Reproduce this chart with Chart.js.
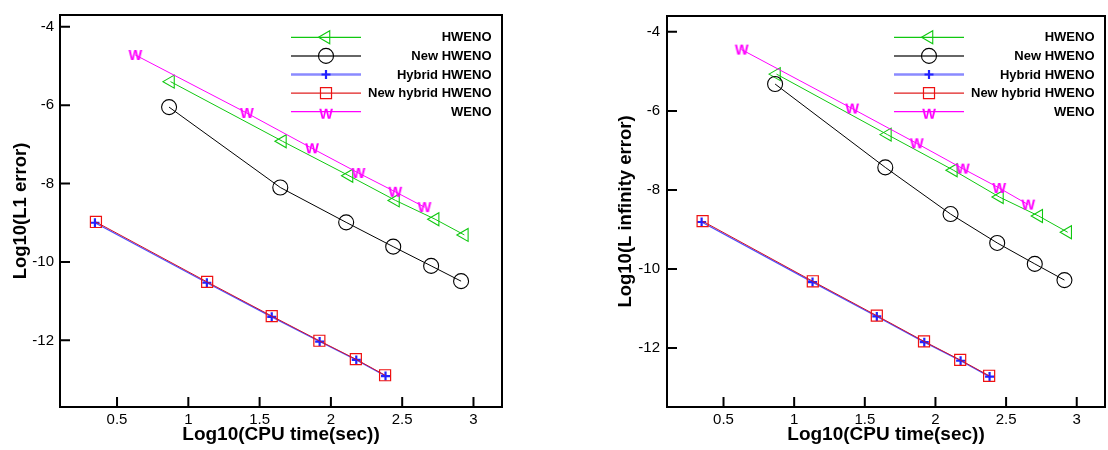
<!DOCTYPE html>
<html>
<head>
<meta charset="utf-8">
<script src="https://cdn.jsdelivr.net/npm/chart.js@4.4.1/dist/chart.umd.min.js"></script>
<style>
  html, body { margin: 0; padding: 0; background: #fff; }
  body { width: 1108px; height: 450px; overflow: hidden; position: relative; }
  .panel { position: absolute; top: 0; height: 450px; }
  #left { left: 0; width: 554px; }
  #right { left: 554px; width: 560px; }
</style>
</head>
<body>
<div class="panel" id="left"><canvas id="cL" width="554" height="450"></canvas></div>
<div class="panel" id="right"><canvas id="cR" width="560" height="450"></canvas></div>
<script>
// log10 of CPU time (s) for each scheme, shared by both error norms
const cpuHWENO      = [0.875, 1.660, 2.127, 2.453, 2.731, 2.936];
const cpuNewHWENO   = [0.865, 1.645, 2.107, 2.437, 2.703, 2.913];
const cpuHybrid     = [0.345, 1.130, 1.585, 1.921, 2.178, 2.383];
const cpuNewHybrid  = [0.352, 1.132, 1.585, 1.919, 2.175, 2.380];
const cpuWENO       = [0.628, 1.410, 1.867, 2.193, 2.451, 2.656];

// log10 of the L1 error
const l1HWENO       = [-5.40, -6.92, -7.80, -8.43, -8.91, -9.31];
const l1NewHWENO    = [-6.05, -8.10, -8.99, -9.61, -10.10, -10.49];
const l1Hybrid      = [-9.00, -10.53, -11.40, -12.03, -12.50, -12.91];
const l1NewHybrid   = [-8.98, -10.51, -11.38, -12.01, -12.48, -12.89];
const l1WENO        = [-4.72, -6.20, -7.10, -7.73, -8.21, -8.60];

// log10 of the L-infinity error
const linfHWENO     = [-5.07, -6.60, -7.50, -8.18, -8.66, -9.07];
const linfNewHWENO  = [-5.32, -7.43, -8.61, -9.34, -9.87, -10.28];
const linfHybrid    = [-8.81, -10.33, -11.20, -11.85, -12.32, -12.72];
const linfNewHybrid = [-8.79, -10.31, -11.18, -11.83, -12.30, -12.70];
const linfWENO      = [-4.45, -5.94, -6.82, -7.46, -7.95, -8.37];

const seriesLabels = ['HWENO', 'New HWENO', 'Hybrid HWENO', 'New hybrid HWENO', 'WENO'];
const xTickValues = [0.5, 1, 1.5, 2, 2.5, 3];
const yTickValues = [-12, -10, -8, -6, -4];

const FONT = '"Liberation Sans", Arial, Helvetica, sans-serif';
Chart.defaults.font.family = FONT;
Chart.defaults.color = '#000';

// "W" glyph used as the WENO marker
function makeGlyph(txt, color, size) {
  const c = document.createElement('canvas');
  c.width = 20; c.height = 16;
  const g = c.getContext('2d');
  g.font = 'bold ' + size + 'px ' + FONT;
  g.fillStyle = color;
  g.textAlign = 'center';
  g.textBaseline = 'middle';
  g.fillText(txt, 10, 8.5);
  return c;
}
const wGlyph = makeGlyph('W', '#ff00ff', 14.5);

function pts(xs, ys) { return xs.map((x, i) => ({ x: x, y: ys[i] })); }

function buildDatasets(ys) {
  return [
    { label: seriesLabels[0], data: pts(cpuHWENO, ys[0]), borderColor: '#10c810', borderWidth: 1,
      pointStyle: 'triangle', pointRotation: -90, pointRadius: 7.5, pointBorderWidth: 1.1,
      pointBorderColor: '#10c810', pointBackgroundColor: 'rgba(0,0,0,0)', legendLine: '#10c810', legendWidth: 1.2, order: 4 },
    { label: seriesLabels[1], data: pts(cpuNewHWENO, ys[1]), borderColor: '#000', borderWidth: 1,
      pointStyle: 'circle', pointRadius: 7.5, pointBorderWidth: 1.1,
      pointBorderColor: '#000', pointBackgroundColor: 'rgba(0,0,0,0)', legendLine: '#333', legendWidth: 1.5, order: 3 },
    { label: seriesLabels[2], data: pts(cpuHybrid, ys[2]), borderColor: '#4d4dff', borderWidth: 1.3,
      pointStyle: 'cross', pointRadius: 4.5, pointBorderWidth: 2.2,
      pointBorderColor: '#2222ff', pointBackgroundColor: 'rgba(0,0,0,0)', legendLine: '#8a8aff', legendWidth: 2.6, order: 1 },
    { label: seriesLabels[3], data: pts(cpuNewHybrid, ys[3]), borderColor: '#d0102a', borderWidth: 1,
      pointStyle: 'rect', pointRadius: 7.8, pointBorderWidth: 1.2,
      pointBorderColor: '#ee1111', pointBackgroundColor: 'rgba(0,0,0,0)', legendLine: '#e02020', legendWidth: 1.2, order: 0 },
    { label: seriesLabels[4], data: pts(cpuWENO, ys[4]), borderColor: '#ff00ff', borderWidth: 1,
      pointStyle: wGlyph, pointRadius: 6, pointBorderWidth: 0,
      pointBorderColor: '#ff00ff', pointBackgroundColor: '#ff00ff', legendLine: '#ff00ff', legendWidth: 1.2, order: 2 }
  ];
}

// Frame, inward tick marks and the in-plot legend
const framePlugin = {
  id: 'frameAndLegend',
  afterDraw(chart) {
    const ctx = chart.ctx, a = chart.chartArea;
    const xs = chart.scales.x, ys = chart.scales.y;
    ctx.save();
    ctx.strokeStyle = '#000';
    ctx.lineWidth = 2;
    ctx.strokeRect(a.left, a.top, a.right - a.left, a.bottom - a.top);
    ctx.beginPath();
    xs.ticks.forEach(t => {
      const px = xs.getPixelForValue(t.value);
      ctx.moveTo(px, a.bottom); ctx.lineTo(px, a.bottom - 10);
    });
    ys.ticks.forEach(t => {
      const py = ys.getPixelForValue(t.value);
      ctx.moveTo(a.left, py); ctx.lineTo(a.left + 10, py);
    });
    ctx.stroke();

    // legend
    const x0 = a.right - 211, x1 = a.right - 141, xm = (x0 + x1) / 2;
    const textRight = a.right - 10.5;
    chart.data.datasets.forEach((ds, i) => {
      const y = 37.3 + i * 18.6;
      ctx.beginPath();
      ctx.strokeStyle = ds.legendLine;
      ctx.lineWidth = ds.legendWidth;
      ctx.moveTo(x0, y); ctx.lineTo(x1, y);
      ctx.stroke();
      ctx.strokeStyle = ds.pointBorderColor;
      ctx.fillStyle = ds.pointBackgroundColor;
      ctx.lineWidth = ds.pointBorderWidth;
      Chart.helpers.drawPoint(ctx, {
        pointStyle: ds.pointStyle,
        rotation: ds.pointRotation || 0,
        radius: ds.pointRadius,
        borderWidth: ds.pointBorderWidth
      }, xm, typeof ds.pointStyle === 'string' ? y : y + 2);
      ctx.fillStyle = '#000';
      ctx.font = 'bold 13px ' + FONT;
      ctx.textAlign = 'right';
      ctx.textBaseline = 'middle';
      ctx.fillText(ds.label, textRight, y + 0.5);
    });
    ctx.restore();
  }
};

function makeChart(id, ys, yTitle, yRange, yAxisWidth, padRight, titlePadTop, tickPad) {
  return new Chart(document.getElementById(id), {
    type: 'scatter',
    data: { datasets: buildDatasets(ys) },
    options: {
      responsive: false,
      animation: false,
      events: [],
      layout: { padding: { top: 7, right: padRight, left: 0, bottom: 0 } },
      plugins: { legend: { display: false }, tooltip: { enabled: false } },
      elements: { line: { tension: 0 } },
      datasets: { scatter: { showLine: true } },
      scales: {
        x: {
          type: 'linear', min: 0.1, max: 3.2,
          grid: { display: false, drawTicks: false },
          border: { display: false },
          afterBuildTicks: s => { s.ticks = xTickValues.map(v => ({ value: v })); },
          afterFit: s => { s.height = 43; },
          ticks: { font: { size: 15 }, padding: 4, color: '#000', callback: v => String(v) },
          title: { display: true, text: 'Log10(CPU time(sec))', color: '#000',
                   font: { size: 19, weight: 'bold', lineHeight: 1.2 }, padding: { top: 0, bottom: 3.6 } }
        },
        y: {
          type: 'linear', min: yRange[0], max: yRange[1],
          grid: { display: false, drawTicks: false },
          border: { display: false },
          afterBuildTicks: s => { s.ticks = yTickValues.map(v => ({ value: v })); },
          afterFit: s => { s.width = yAxisWidth; },
          ticks: { font: { size: 15 }, padding: tickPad, color: '#000', callback: v => String(v) },
          title: { display: true, text: yTitle, color: '#000',
                   font: { size: 18.5, weight: 'bold', lineHeight: 1.2 }, padding: { top: titlePadTop, bottom: 0 } }
        }
      }
    },
    plugins: [framePlugin]
  });
}

makeChart('cL', [l1HWENO, l1NewHWENO, l1Hybrid, l1NewHybrid, l1WENO],
  'Log10(L1 error)', [-13.7, -3.7], 60, 52, 10.2, 6);
makeChart('cR', [linfHWENO, linfNewHWENO, linfHybrid, linfNewHybrid, linfWENO],
  'Log10(L infinity error)', [-13.49, -3.6], 113, 5, 60.8, 7);
</script>
</body>
</html>
